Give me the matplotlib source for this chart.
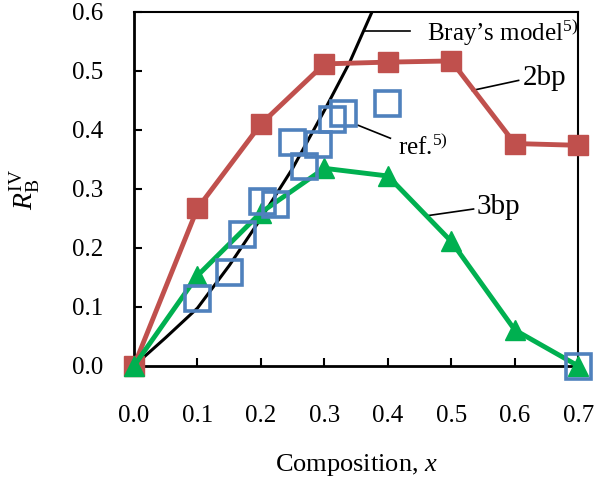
import matplotlib
matplotlib.use("Agg")
import matplotlib.pyplot as plt

plt.rcParams['font.family'] = ['Liberation Serif', 'DejaVu Serif']
plt.rcParams['mathtext.fontset'] = 'custom'
plt.rcParams['mathtext.rm'] = 'Liberation Serif'
plt.rcParams['mathtext.it'] = 'Liberation Serif:italic'

# data
x_calc = [0.0, 0.1, 0.2, 0.3, 0.4, 0.5, 0.6, 0.7]
r_2bp = [0.0, 0.267, 0.41, 0.512, 0.515, 0.517, 0.377, 0.374]
r_3bp = [0.0, 0.153, 0.26, 0.335, 0.322, 0.211, 0.061, 0.0]

x_ref = [0.099, 0.150, 0.170, 0.202, 0.222, 0.249, 0.268, 0.290, 0.312, 0.330, 0.399, 0.7]
r_ref = [0.116, 0.160, 0.224, 0.280, 0.275, 0.379, 0.339, 0.376, 0.418, 0.428, 0.445, 0.0]

x_bray = [0.0, 0.05, 0.1, 0.15, 0.2, 0.25, 0.3, 0.34, 0.375, 0.39]
r_bray = [0.0, 0.048, 0.098, 0.17, 0.25, 0.335, 0.433, 0.515, 0.60, 0.64]

red = '#C0504D'
green = '#00B050'
blue = '#4F81BD'

fig = plt.figure(figsize=(5.98, 4.79), dpi=100)
ax = fig.add_axes([0.224, 0.236, 0.743, 0.739])

ax.plot(x_bray, r_bray, color='black', lw=2.2, zorder=2)
ax.plot(x_calc, r_2bp, color=red, lw=3.5, marker='s', ms=14, zorder=3, clip_on=False)
ax.plot(x_calc, r_3bp, color=green, lw=3.5, marker='^', ms=14, zorder=4, clip_on=False)
ax.plot(x_ref, r_ref, ls='none', marker='s', ms=18, mfc='none',
        mec=blue, mew=2.6, zorder=5, clip_on=False)

# leader lines + labels
ax.plot([0.364, 0.435], [0.568, 0.568], color='black', lw=1.2)
ax.text(0.462, 0.566, 'Bray\u2019s model$^{5)}$', fontsize=18, va='center')
ax.plot([0.533, 0.606], [0.467, 0.484], color='black', lw=1.2)
ax.text(0.612, 0.488, '2bp', fontsize=21, va='center')
ax.plot([0.353, 0.404], [0.408, 0.386], color='black', lw=1.2)
ax.text(0.416, 0.372, 'ref.$^{5)}$', fontsize=18, va='center')
ax.plot([0.464, 0.535], [0.255, 0.266], color='black', lw=1.2)
ax.text(0.540, 0.27, '3bp', fontsize=21, va='center')

ax.set_xlim(0, 0.7)
ax.set_ylim(0, 0.6)
ax.set_xticks([0.0, 0.1, 0.2, 0.3, 0.4, 0.5, 0.6, 0.7])
ax.set_yticks([0.0, 0.1, 0.2, 0.3, 0.4, 0.5, 0.6])
ax.xaxis.set_major_formatter(matplotlib.ticker.FormatStrFormatter('%.1f'))
ax.yaxis.set_major_formatter(matplotlib.ticker.FormatStrFormatter('%.1f'))
ax.tick_params(direction='in', length=6, width=1.5, labelsize=18)
ax.tick_params(axis='x', pad=28)
ax.tick_params(axis='y', pad=22)
for s in ax.spines.values():
    s.set_linewidth(1.5)
ax.spines['left'].set_linewidth(2)
ax.spines['bottom'].set_linewidth(2)

ax.set_xlabel('Composition, $x$', fontsize=19, labelpad=18)
ax.set_ylabel(r'$R_{\mathrm{B}}^{\mathrm{IV}}$', fontsize=20, labelpad=22)

fig.savefig('out.png', dpi=100)
